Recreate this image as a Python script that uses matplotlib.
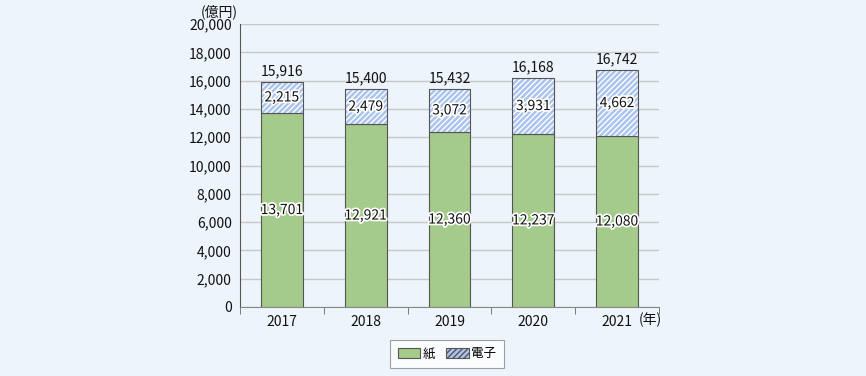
import matplotlib
matplotlib.use("Agg")
import matplotlib.pyplot as plt
import matplotlib.patheffects as pe
from matplotlib.patches import Patch

plt.rcParams['font.family'] = ['Noto Sans CJK JP', 'DejaVu Sans']

years = ['2017', '2018', '2019', '2020', '2021']
paper = [13701, 12921, 12360, 12237, 12080]
digital = [2215, 2479, 3072, 3931, 4662]
totals = [15916, 15400, 15432, 16168, 16742]

bg = '#eef4fb'
green = '#a5cb8c'
blue = '#aac4ee'
edge = '#555555'

plt.rcParams['hatch.linewidth'] = 1.0

fig = plt.figure(figsize=(8.66, 3.76), dpi=100, facecolor=bg)
ax = fig.add_axes([240/866, 1-307/376, 419/866, 283/376], facecolor=bg)

x = list(range(len(years)))
w = 0.5
ax.bar(x, paper, width=w, color=green, edgecolor=edge, linewidth=0.8, zorder=3)
ax.bar(x, digital, width=w, bottom=paper, color=blue, edgecolor='white', hatch='//////', linewidth=0, zorder=3)
ax.bar(x, digital, width=w, bottom=paper, fill=False, edgecolor=edge, linewidth=0.8, zorder=4)

stroke = [pe.withStroke(linewidth=2.5, foreground='white')]
for i in x:
    ax.text(i, paper[i]/2, f'{paper[i]:,}', ha='center', va='center', fontsize=10, color='#111111', path_effects=stroke, zorder=5)
    ax.text(i, paper[i] + digital[i]/2, f'{digital[i]:,}', ha='center', va='center', fontsize=10, color='#111111', path_effects=stroke, zorder=5)
    ax.text(i, totals[i] + 250, f'{totals[i]:,}', ha='center', va='bottom', fontsize=10, color='#111111', zorder=5)

ax.set_xlim(-0.5, 4.5)
ax.set_ylim(0, 20000)
ax.set_yticks(range(0, 20001, 2000))
ax.set_yticklabels([f'{v:,}' for v in range(0, 20001, 2000)], fontsize=10, color='#111111')
ax.yaxis.grid(True, color='#c8c8c8', linewidth=1, zorder=0)
ax.set_axisbelow(True)
ax.tick_params(axis='y', length=0, pad=6)

ax.set_xticks(x)
ax.set_xticklabels(years, fontsize=10, color='#111111')
ax.set_xticks([i - 0.5 for i in range(6)], minor=True)
ax.tick_params(axis='x', which='major', length=0, pad=6)
ax.tick_params(axis='x', which='minor', length=5, color='#666666', direction='out')

for s in ['top', 'right']:
    ax.spines[s].set_visible(False)
ax.spines['left'].set_color('#555555')
ax.spines['bottom'].set_color('#888888')

fig.text(219/866, 1-12/376, '(億円)', ha='center', va='center', fontsize=10, color='#111111')
fig.text(650/866, 1-320/376, '(年)', ha='center', va='center', fontsize=10, color='#111111')

handles = [Patch(facecolor=green, edgecolor=edge, linewidth=0.8, label='紙'),
           Patch(facecolor=blue, edgecolor=edge, hatch='//////', linewidth=0.8, label='電子')]
leg = fig.legend(handles=handles, loc='center', bbox_to_anchor=(447/866, 1-354/376), ncol=2,
                 frameon=True, fancybox=False, edgecolor='#888888', facecolor='white',
                 fontsize=9, handlelength=1.8, handleheight=0.8, handletextpad=0.2, columnspacing=0.9,
                 borderpad=0.6)
leg.get_frame().set_linewidth(0.8)

fig.savefig('out.png', dpi=100, facecolor=bg)
